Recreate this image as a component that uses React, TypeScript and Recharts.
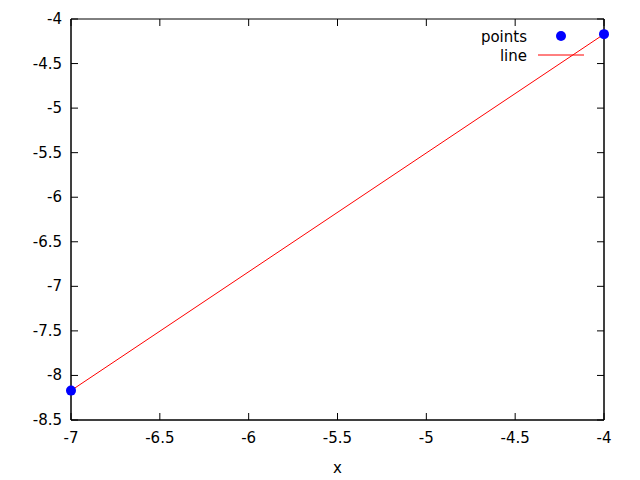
import React from 'react';
import { ComposedChart, Line, Scatter, XAxis, YAxis, ReferenceArea } from 'recharts';

const pointXs = [-7, -4];
const pointYs = [-8.17, -4.17];
const xTicks = [-7, -6.5, -6, -5.5, -5, -4.5, -4];
const yTicks = [-8.5, -8, -7.5, -7, -6.5, -6, -5.5, -5, -4.5, -4];
const seriesNames = ['points', 'line'];

const data = pointXs.map((x, i) => ({ x, y: pointYs[i] }));

const FONT = 'DejaVu Sans, sans-serif';
const FS = 15;
const TL = 7;
const W = 640;
const H = 480;
const M = { top: 19, right: 35, bottom: 20, left: 0 };
const XAH = 40;
const PLOT_H = H - M.top - M.bottom - XAH;

const BottomTick = (p: any) => (
  <g>
    <path d={`M${p.x},${p.y}V${p.y - TL}M${p.x},${p.y - PLOT_H}V${p.y - PLOT_H + TL}`} stroke="#000" strokeWidth={1} fill="none" />
    <text x={p.x} y={p.y + 23} textAnchor="middle" fontFamily={FONT} fontSize={FS} fill="#000">
      {p.payload.value}
    </text>
  </g>
);
const LeftTick = (p: any) => (
  <g>
    <line x1={p.x} y1={p.y} x2={p.x + TL} y2={p.y} stroke="#000" />
    <text x={p.x - 9} y={p.y + 5} textAnchor="end" fontFamily={FONT} fontSize={FS} fill="#000">
      {p.payload.value}
    </text>
  </g>
);
const RightTick = (p: any) => (
  <line x1={p.x} y1={p.y} x2={p.x - TL} y2={p.y} stroke="#000" />
);

const LegendOverlay = () => (
  <svg width={120} height={40} style={{ position: 'absolute', left: 470, top: 27, pointerEvents: 'none' }}>
    <text x={57} y={15} textAnchor="end" fontFamily={FONT} fontSize={FS} fill="#000">{seriesNames[0]}</text>
    <circle cx={91} cy={9} r={5} fill="#0000ff" />
    <text x={57} y={34} textAnchor="end" fontFamily={FONT} fontSize={FS} fill="#000">{seriesNames[1]}</text>
    <line x1={68} y1={28} x2={114} y2={28} stroke="#ff0000" />
  </svg>
);

export default function App() {
  return (
    <div style={{ position: 'absolute', left: 0, top: 0, width: W, height: H, background: '#fff' }}>
      <ComposedChart width={W} height={H} data={data} margin={M}>
        <XAxis xAxisId="b" dataKey="x" type="number" domain={[-7, -4]} ticks={xTicks} tickSize={0} tickMargin={0}
          tick={BottomTick} axisLine={{ stroke: '#000' }} tickLine={false} height={XAH} interval={0}
          label={{ value: 'x', position: 'insideBottom', offset: -13, fontFamily: FONT, fontSize: FS, fill: '#000' }} />
        <YAxis yAxisId="l" type="number" domain={[-8.5, -4]} ticks={yTicks} tickSize={0} tickMargin={0}
          tick={LeftTick} axisLine={{ stroke: '#000' }} tickLine={false} width={71} interval={0} />
        <YAxis yAxisId="r" orientation="right" type="number" domain={[-8.5, -4]} ticks={yTicks} tickSize={0} tickMargin={0}
          tick={RightTick} axisLine={{ stroke: '#000' }} tickLine={false} width={1} interval={0} />
        <ReferenceArea xAxisId="b" yAxisId="l" x1={xTicks[0]} x2={xTicks[xTicks.length - 1]} y1={yTicks[0]} y2={yTicks[yTicks.length - 1]}
          fill="none" fillOpacity={0} stroke="#000" strokeWidth={1} strokeOpacity={1} ifOverflow="visible" />
        <Line xAxisId="b" yAxisId="r" dataKey="y" stroke="none" strokeWidth={0} dot={false} activeDot={false} legendType="none" isAnimationActive={false} />
        <Line xAxisId="b" yAxisId="l" name={seriesNames[1]} dataKey="y" stroke="#ff0000" strokeWidth={1} dot={false} isAnimationActive={false} />
        <Scatter xAxisId="b" yAxisId="l" name={seriesNames[0]} dataKey="y" fill="#0000ff" isAnimationActive={false}
          shape={(p: any) => <circle cx={p.cx} cy={p.cy} r={5} fill="#0000ff" />} />
      </ComposedChart>
      <LegendOverlay />
    </div>
  );
}
